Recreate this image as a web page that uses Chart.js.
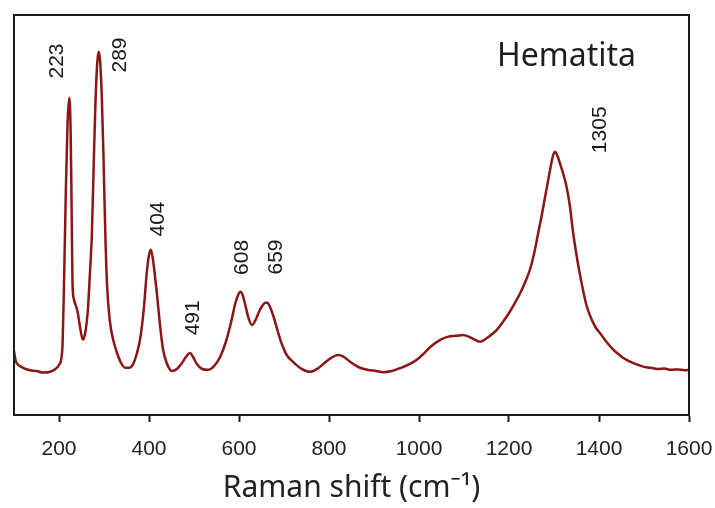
<!DOCTYPE html>
<html>
<head>
<meta charset="utf-8">
<script src="https://cdn.jsdelivr.net/npm/chart.js@4"></script>
<style>
  html, body { margin: 0; padding: 0; background: #fff; }
  canvas { display: block; }
</style>
</head>
<body>
<canvas id="grafico" width="715" height="508"></canvas>
<script>
// Espectro Raman de hematita (intensidad en unidades arbitrarias)
const shifts = [100, 104, 110, 120, 135, 150, 165, 180, 192, 200, 205, 208, 211, 215, 219, 223, 226, 228, 230, 233,
  237, 241, 246, 253, 259, 264, 269, 273, 277, 281, 285, 288, 291, 295, 299, 303, 307, 313, 320, 329,
  338, 347, 356, 365, 372, 380, 388, 395, 400, 404, 408, 412, 417, 424, 431, 440, 451, 462, 472, 482,
  491, 498, 506, 518, 531, 545, 558, 570, 582, 592, 598, 603, 608, 614, 621, 629, 637, 646, 655, 662,
  669, 677, 686, 695, 706, 720, 738, 758, 775, 790, 805, 820, 832, 847, 865, 885, 905, 920, 940, 960,
  980, 995, 1010, 1025, 1047, 1065, 1083, 1098, 1112, 1125, 1136, 1148, 1160, 1173, 1188, 1200, 1212, 1225, 1237, 1247,
  1256, 1264, 1272, 1281, 1290, 1297, 1302, 1307, 1313, 1320, 1328, 1335, 1342, 1350, 1357, 1364, 1372, 1382, 1392, 1402,
  1415, 1428, 1440, 1455, 1470, 1485, 1498, 1515, 1530, 1545, 1560, 1575, 1590, 1600];
const intensity = [16, 13.5, 12.5, 11.8, 11.2, 11, 10.6, 10.8, 11.5, 12.5, 14, 18, 32, 55, 73, 79.3, 70, 52, 33, 29,
  27.5, 26, 22.5, 18.8, 21, 26, 36, 45, 62, 78, 88, 90.8, 89, 80, 64, 45, 32, 23.5, 19, 15.5,
  13, 11.8, 11.8, 12.8, 15, 18.8, 26, 35.5, 40, 41.3, 39.5, 36, 31, 23, 16.5, 12.8, 11, 11.5, 12.8, 14.5,
  15.5, 14.5, 12.8, 11.5, 11.3, 12.3, 14.5, 18, 23, 28, 30, 30.8, 30, 27.5, 24.3, 22.5, 23.8, 26.2, 27.8, 28.1,
  27, 24.5, 21, 17.8, 15, 13.3, 11.6, 10.8, 11.6, 13, 14.3, 15, 14.6, 13.3, 12, 11.3, 11, 10.7, 11, 11.8,
  12.8, 13.8, 15.3, 17, 18.8, 19.6, 19.8, 20, 19.5, 18.8, 18.3, 19, 20, 21.3, 23.5, 25.5, 27.8, 30.5, 33.5, 36.5,
  40.5, 45, 49.5, 55, 60.5, 64.5, 65.8, 65, 63, 60.5, 57, 52.5, 46, 40, 35.5, 31.5, 27.5, 24.3, 22, 20.5,
  18.5, 16.8, 15.5, 14.2, 13.3, 12.6, 12.1, 11.8, 11.5, 11.6, 11.3, 11.4, 11.2, 11.3];

const peakLabels = ['223', '289', '404', '491', '608', '659', '1305'];
const xTicks = [200, 400, 600, 800, 1000, 1200, 1400, 1600];

// donde va cada etiqueta (en unidades de los ejes)
const labelSpots = [[195, 88.5], [335, 90], [420, 49], [498, 24.3], [607, 39.4], [682, 39.5], [1402, 71.3]];

const marcoYEtiquetas = {
  id: 'marcoYEtiquetas',
  afterDraw(chart) {
    const { ctx, chartArea: a, scales } = chart;
    ctx.save();
    // marco del grafico
    ctx.strokeStyle = '#1a1a1a';
    ctx.lineWidth = 2;
    ctx.strokeRect(a.left, a.top, a.right - a.left, a.bottom - a.top);

    // etiquetas de los picos, giradas
    ctx.fillStyle = '#1a1a1a';
    ctx.font = '21px "Liberation Sans", Arial, sans-serif';
    ctx.textAlign = 'center';
    ctx.textBaseline = 'middle';
    peakLabels.forEach((txt, i) => {
      const px = scales.x.getPixelForValue(labelSpots[i][0]);
      const py = scales.y.getPixelForValue(labelSpots[i][1]);
      ctx.save();
      ctx.translate(px, py);
      ctx.rotate(-Math.PI / 2);
      ctx.fillText(txt, 0, 0);
      ctx.restore();
    });

    // nombre del mineral
    ctx.font = '32px "Noto Sans", sans-serif';
    ctx.textAlign = 'left';
    ctx.textBaseline = 'alphabetic';
    ctx.fillStyle = '#1e1e1e';
    ctx.fillText('Hematita', a.left + 483, a.top + 51);
    ctx.restore();
  }
};

new Chart(document.getElementById('grafico'), {
  type: 'line',
  data: {
    datasets: [{
      label: 'Hematita',
      data: shifts.map((s, i) => ({ x: s, y: intensity[i] })),
      borderColor: '#8a1616',
      borderWidth: 2.5,
      pointRadius: 0,
      cubicInterpolationMode: 'monotone',
      fill: false
    }]
  },
  options: {
    responsive: false,
    animation: false,
    devicePixelRatio: 1,
    layout: { padding: { left: 14, right: 26, top: 15, bottom: 0 } },
    plugins: {
      legend: { display: false },
      tooltip: { enabled: false }
    },
    scales: {
      x: {
        type: 'linear',
        min: 100,
        max: 1600,
        afterBuildTicks(scale) {
          scale.ticks = xTicks.map(v => ({ value: v }));
        },
        afterFit(scale) {
          scale.height = 93;
          scale.paddingLeft = 0;
          scale.paddingRight = 0;
        },
        grid: {
          drawOnChartArea: false,
          drawTicks: true,
          tickLength: 7,
          tickWidth: 2,
          tickColor: '#1a1a1a'
        },
        border: { display: true, color: '#1a1a1a', width: 2 },
        ticks: {
          color: '#222',
          padding: 15,
          maxRotation: 0,
          callback: v => String(v),
          font: { family: '"Liberation Sans", Arial, sans-serif', size: 21 }
        },
        title: {
          display: true,
          text: 'Raman shift (cm⁻¹)',
          color: '#222',
          padding: { top: 0, bottom: 2 },
          font: { family: '"Noto Sans", sans-serif', size: 30 }
        }
      },
      y: {
        display: false,
        min: 0,
        max: 100
      }
    }
  },
  plugins: [marcoYEtiquetas]
});
</script>
</body>
</html>
